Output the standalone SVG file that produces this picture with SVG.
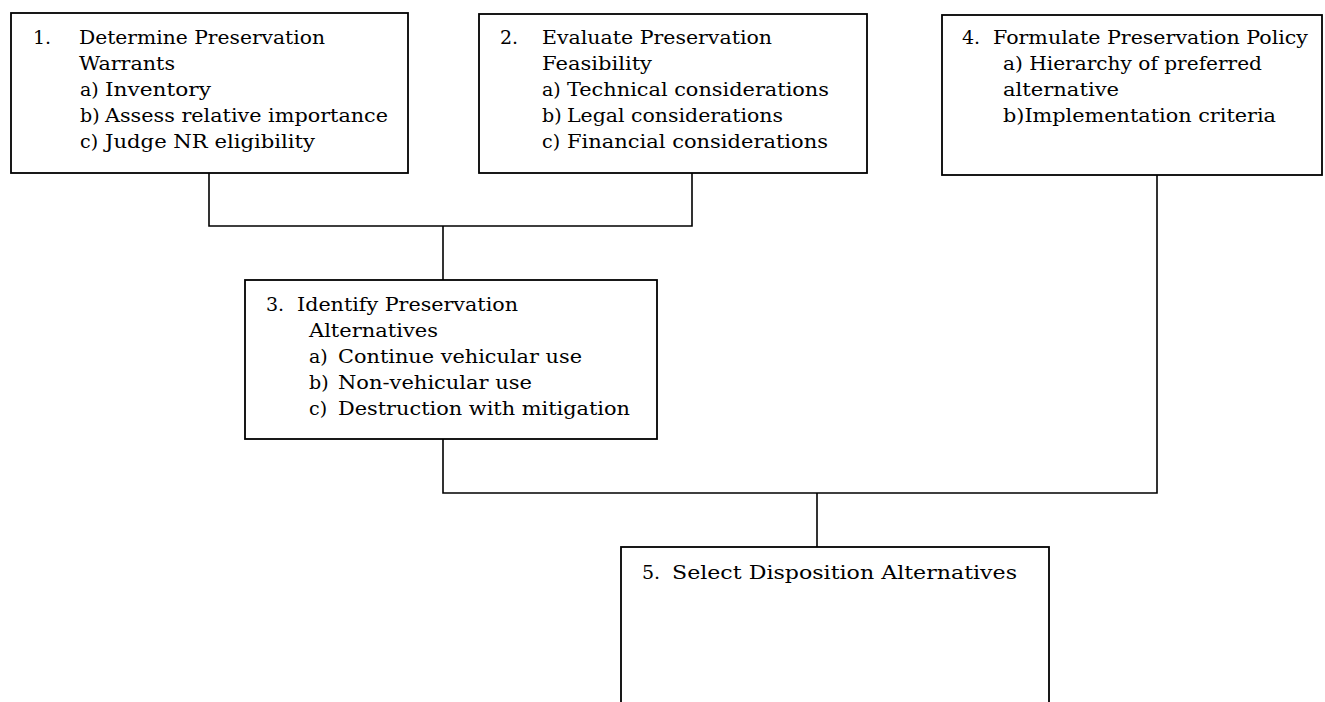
<svg xmlns="http://www.w3.org/2000/svg" width="1325" height="702" viewBox="0 0 1325 702">
<style>
  .box { fill: #ffffff; stroke: #000000; stroke-width: 1.8; }
  .conn { fill: none; stroke: #000000; stroke-width: 1.6; }
  text { font-family: "DejaVu Serif", "Liberation Serif", serif; font-size: 19px; fill: #000000; }
</style>
<rect x="0" y="0" width="1325" height="702" fill="#ffffff"/>
<g id="connectors">
  <path class="conn" d="M209 173 V226 H692 V173"/>
  <path class="conn" d="M443 226 V280"/>
  <path class="conn" d="M443 439 V493 H1157 V175"/>
  <path class="conn" d="M817 493 V547"/>
</g>
<g id="node1">
  <rect class="box" x="11" y="13" width="397" height="160"/>
  <text x="33" y="44">1.</text>
  <text x="79" y="44" textLength="246" lengthAdjust="spacingAndGlyphs">Determine Preservation</text>
  <text x="79" y="70" textLength="96" lengthAdjust="spacingAndGlyphs">Warrants</text>
  <text x="80" y="96">a)</text>
  <text x="105" y="96" textLength="106" lengthAdjust="spacingAndGlyphs">Inventory</text>
  <text x="80" y="122">b)</text>
  <text x="105" y="122" textLength="283" lengthAdjust="spacingAndGlyphs">Assess relative importance</text>
  <text x="80" y="148">c)</text>
  <text x="105" y="148" textLength="210" lengthAdjust="spacingAndGlyphs">Judge NR eligibility</text>
</g>
<g id="node2">
  <rect class="box" x="479" y="14" width="388" height="159"/>
  <text x="500" y="44">2.</text>
  <text x="542" y="44" textLength="230" lengthAdjust="spacingAndGlyphs">Evaluate Preservation</text>
  <text x="542" y="70" textLength="110" lengthAdjust="spacingAndGlyphs">Feasibility</text>
  <text x="542" y="96">a)</text>
  <text x="567" y="96" textLength="262" lengthAdjust="spacingAndGlyphs">Technical considerations</text>
  <text x="542" y="122">b)</text>
  <text x="567" y="122" textLength="216" lengthAdjust="spacingAndGlyphs">Legal considerations</text>
  <text x="542" y="148">c)</text>
  <text x="567" y="148" textLength="261" lengthAdjust="spacingAndGlyphs">Financial considerations</text>
</g>
<g id="node4">
  <rect class="box" x="942" y="15" width="380" height="160"/>
  <text x="962" y="44">4.</text>
  <text x="993" y="44" textLength="315" lengthAdjust="spacingAndGlyphs">Formulate Preservation Policy</text>
  <text x="1003" y="70" textLength="259" lengthAdjust="spacingAndGlyphs">a) Hierarchy of preferred</text>
  <text x="1003" y="96" textLength="116" lengthAdjust="spacingAndGlyphs">alternative</text>
  <text x="1003" y="122" textLength="273" lengthAdjust="spacingAndGlyphs">b)Implementation criteria</text>
</g>
<g id="node3">
  <rect class="box" x="245" y="280" width="412" height="159"/>
  <text x="266" y="311">3.</text>
  <text x="297" y="311" textLength="221" lengthAdjust="spacingAndGlyphs">Identify Preservation</text>
  <text x="309" y="337" textLength="129" lengthAdjust="spacingAndGlyphs">Alternatives</text>
  <text x="309" y="363">a)</text>
  <text x="338" y="363" textLength="244" lengthAdjust="spacingAndGlyphs">Continue vehicular use</text>
  <text x="309" y="389">b)</text>
  <text x="338" y="389" textLength="194" lengthAdjust="spacingAndGlyphs">Non-vehicular use</text>
  <text x="309" y="415">c)</text>
  <text x="338" y="415" textLength="292" lengthAdjust="spacingAndGlyphs">Destruction with mitigation</text>
</g>
<g id="node5">
  <rect class="box" x="621" y="547" width="428" height="170"/>
  <text x="642" y="579">5.</text>
  <text x="672" y="579" textLength="345" lengthAdjust="spacingAndGlyphs">Select Disposition Alternatives</text>
</g>
</svg>
